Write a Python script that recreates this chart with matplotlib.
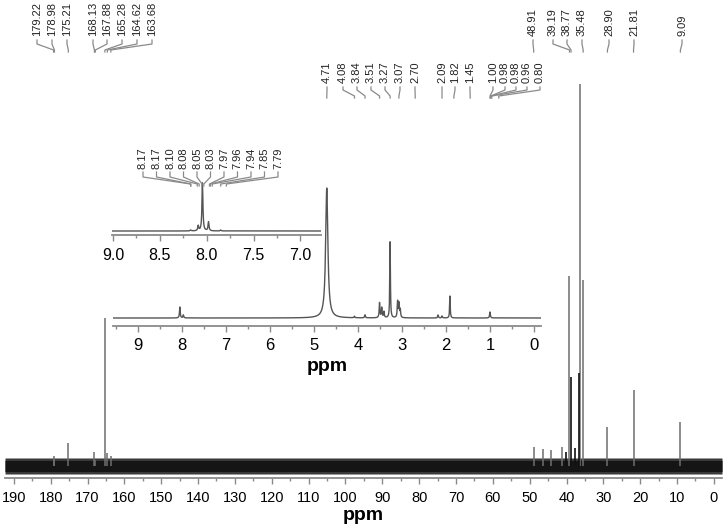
import numpy as np
import matplotlib.pyplot as plt
from matplotlib.lines import Line2D
from matplotlib.ticker import MultipleLocator

plt.rcParams['font.family'] = ['Liberation Sans', 'DejaVu Sans']

# -------------------------------------------------------
# Data
# -------------------------------------------------------
# 13C spectrum: peak positions (ppm) and heights (baseline = 0)
c13_ppm = [179.22, 178.98, 175.21, 168.13, 167.88, 165.28, 164.62, 163.68,
           48.91, 46.5, 44.2, 41.1, 39.19, 36.45, 35.48, 28.90, 21.81, 9.09]
c13_height = [10, 8, 23, 14, 6, 148, 13, 10,
              19, 17, 16, 19, 190, 382, 186, 39, 76, 44]
c13_dark_ppm = [40.2, 38.9, 37.6, 36.6]
c13_dark_height = [14, 89, 18, 93]

# 1H spectrum (inset)
h1_ppm = [8.05, 7.97, 4.71, 4.08, 3.84, 3.51, 3.46, 3.41, 3.27,
          3.10, 3.07, 3.04, 2.18, 2.09, 1.91, 1.00]
h1_height = [11, 3, 130, 1.5, 3, 15, 10, 6, 76,
             16, 14, 8, 3, 2, 22, 6]
h1_width = [0.01, 0.01, 0.03, 0.01, 0.01, 0.01, 0.01, 0.01, 0.008,
            0.01, 0.01, 0.01, 0.01, 0.01, 0.008, 0.01]

# 1H aromatic region (zoomed inset)
zoom_ppm = [8.17, 8.09, 8.045, 7.98, 7.85]
zoom_height = [1, 5, 48, 9, 1]

# peak labels
c13_labels = ['179.22', '178.98', '175.21', '168.13', '167.88', '165.28', '164.62', '163.68',
              '48.91', '39.19', '38.77', '35.48', '28.90', '21.81', '9.09']
h1_labels = ['4.71', '4.08', '3.84', '3.51', '3.27', '3.07', '2.70', '2.09', '1.82', '1.45',
             '1.00', '0.98', '0.98', '0.96', '0.80']
zoom_labels = ['8.17', '8.17', '8.10', '8.08', '8.05', '8.03', '7.97', '7.96', '7.94', '7.85', '7.79']

# label x positions (figure pixels)
c13_label_x = [37, 52, 67, 93, 107, 122, 137, 152, 533, 553, 567, 582, 609, 634, 682]
h1_label_x = [327, 343, 357, 371, 385, 400, 415, 442, 455, 470, 493, 505, 516, 527, 540]
zoom_label_x = [143 + 13.5 * i for i in range(len(zoom_labels))]

W, H = 725, 528


def frac(x0, y_top, x1, y_bot):
    return [x0 / W, 1 - y_bot / H, (x1 - x0) / W, (y_bot - y_top) / H]


def lorentz(x, centers, heights, widths):
    y = np.zeros_like(x)
    for c, h, w in zip(centers, heights, widths):
        y += h * w ** 2 / ((x - c) ** 2 + w ** 2)
    return y


def style_axis(ax):
    for s in ['top', 'left', 'right']:
        ax.spines[s].set_visible(False)
    ax.spines['bottom'].set_color('#8a8a8a')
    ax.spines['bottom'].set_linewidth(1.3)
    ax.set_yticks([])
    ax.tick_params(axis='x', which='both', direction='out', color='#8a8a8a', width=1)
    ax.tick_params(axis='x', which='major', length=4, pad=5)
    ax.tick_params(axis='x', which='minor', length=2.5)
    ax.patch.set_alpha(0)


fig = plt.figure(figsize=(7.25, 5.28), dpi=100)

# -------------------------------------------------------
# Main 13C spectrum
# -------------------------------------------------------
ax = fig.add_axes(frac(5, 60, 722, 478))
grid = np.linspace(-2.2, 192.4, 4000)
# baseline noise drawn as a band
ax.fill_between(grid, -8, 8, color='#3a3a3a', lw=0)
ax.fill_between(grid, -5.5, 5.5, color='#151515', lw=0)
ax.vlines(c13_ppm, 0, c13_height, color='#6e6e6e', lw=1.1)
ax.vlines(c13_dark_ppm, 0, c13_dark_height, color='#111111', lw=1.2)
ax.set_xlim(192.4, -2.2)
ax.set_ylim(-12, 406)
ax.xaxis.set_major_locator(MultipleLocator(10))
ax.xaxis.set_minor_locator(MultipleLocator(5))
style_axis(ax)
ax.tick_params(axis='x', labelsize=10.5)
ax.set_xlabel('ppm', fontsize=14, fontweight='bold', labelpad=2)

# -------------------------------------------------------
# 1H inset
# -------------------------------------------------------
ax1 = fig.add_axes(frac(113, 180, 541, 326))
x1 = np.linspace(-0.16, 9.57, 12000)
ax1.plot(x1, lorentz(x1, h1_ppm, h1_height, h1_width), color='#555555', lw=1)
ax1.set_xlim(9.57, -0.16)
ax1.set_ylim(-8, 138)
ax1.xaxis.set_major_locator(MultipleLocator(1))
ax1.xaxis.set_minor_locator(MultipleLocator(0.5))
style_axis(ax1)
ax1.tick_params(axis='x', labelsize=12)
ax1.set_xlabel('ppm', fontsize=14, fontweight='bold', labelpad=3)

# -------------------------------------------------------
# 1H aromatic zoom inset
# -------------------------------------------------------
ax2 = fig.add_axes(frac(112, 175, 321, 235))
x2 = np.linspace(6.78, 9.01, 6000)
ax2.plot(x2, lorentz(x2, zoom_ppm, zoom_height, [0.006] * len(zoom_ppm)), color='#555555', lw=1)
ax2.set_xlim(9.01, 6.78)
ax2.set_ylim(-4, 56)
ax2.xaxis.set_major_locator(MultipleLocator(0.5))
ax2.xaxis.set_minor_locator(MultipleLocator(0.25))
ax2.xaxis.set_major_formatter(lambda v, p: f'{v:.1f}')
style_axis(ax2)
ax2.tick_params(axis='x', labelsize=11.5)


# -------------------------------------------------------
# Peak labels with connector lines
# -------------------------------------------------------
def label_peaks(axis, labels, label_x, text_y, y0, y1, y2, y3):
    for lab, lx in zip(labels, label_x):
        px = axis.transData.transform((float(lab), 0))[0]
        fig.text(lx / W, 1 - text_y / H, lab, rotation=90, ha='center', va='bottom',
                 fontsize=8, color='#222222')
        xs = [lx / W, lx / W, px / W, px / W]
        ys = [1 - y0 / H, 1 - y1 / H, 1 - y2 / H, 1 - y3 / H]
        fig.add_artist(Line2D(xs, ys, transform=fig.transFigure, color='#8a8a8a', lw=0.9))


label_peaks(ax, c13_labels, c13_label_x, 36, 40, 44, 50, 52)
label_peaks(ax1, h1_labels, h1_label_x, 83, 87, 90, 96, 98)
label_peaks(ax2, zoom_labels, zoom_label_x, 169, 172, 177, 184, 186)

plt.savefig('out.png', dpi=100)
